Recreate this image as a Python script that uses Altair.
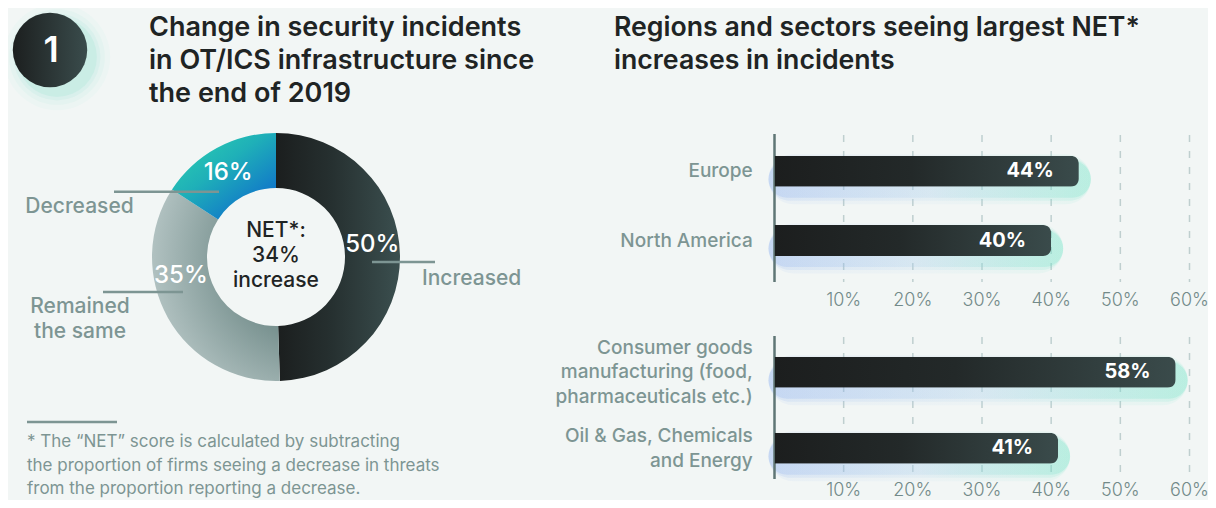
import math
import altair as alt
import pandas as pd

# ------------------------------------------------------------------ data
donut_cats = ["Increased", "Remained the same", "Decreased"]
donut_labels = ["Increased", "Remained\nthe same", "Decreased"]
donut_vals = [50, 35, 16]
net_value = donut_vals[0] - donut_vals[2]

regions = ["Europe", "North America"]
region_vals = [44, 40]

sectors = [
    "Consumer goods\nmanufacturing (food,\npharmaceuticals etc.)",
    "Oil & Gas, Chemicals\nand Energy",
]
sector_vals = [58, 41]

ticks = [10, 20, 30, 40, 50, 60]
tick_labels = ["10%", "20%", "30%", "40%", "50%", "60%"]

title_left = ["Change in security incidents", "in OT/ICS infrastructure since", "the end of 2019"]
title_right = ["Regions and sectors seeing largest NET*", "increases in incidents"]
center_text = ["NET*:", f"{net_value}%", "increase"]
footnote = [
    "* The \u201cNET\u201d score is calculated by subtracting",
    "the proportion of firms seeing a decrease in threats",
    "from the proportion reporting a decrease.",
]

# ------------------------------------------------------------------ layout / style
M = 8  # page margin


def px(v):
    return v - M


W, H = 1216 - 2 * M, 508 - 2 * M
FONT = "Inter"
BG = "#f2f6f5"
INK = "#1f2424"
MUTED = "#7d9593"
TICK = "#738a89"
GRID = "#bfcfcf"
AXIS = "#5f7675"


def lin(stops, x1=0, y1=0, x2=1, y2=0):
    return alt.LinearGradient(
        gradient="linear",
        stops=[alt.GradientStop(offset=o, color=c) for o, c in stops],
        x1=x1, y1=y1, x2=x2, y2=y2,
    )


def rad(stops, x, y, r):
    return alt.RadialGradient(
        gradient="radial",
        stops=[alt.GradientStop(offset=o, color=c) for o, c in stops],
        x1=x, y1=y, r1=0, x2=x, y2=y, r2=r,
    )


one = pd.DataFrame({"k": [0]})
layers = []

# ------------------------------------------------------------------ badge "1"
for r, op in [(60, 0.05), (54, 0.08), (49, 0.13), (45, 0.2)]:
    layers.append(
        alt.Chart(one).mark_circle(size=math.pi * r * r, color="#8fe3cf", opacity=op)
        .encode(x=alt.value(px(57)), y=alt.value(px(57)))
    )
layers.append(
    alt.Chart(one).mark_circle(
        size=math.pi * 42 * 42, opacity=1,
        color=lin([(0, "#1c1f1f"), (1, "#3a4c4c")]),
    ).encode(x=alt.value(px(50)), y=alt.value(px(50)))
)
layers.append(
    alt.Chart(one).mark_text(text="1", font=FONT, fontSize=36, fontWeight=600,
                             color="white", baseline="middle", align="center")
    .encode(x=alt.value(px(51)), y=alt.value(px(51)))
)

# ------------------------------------------------------------------ titles
layers.append(
    alt.Chart(one).mark_text(text=title_left, font=FONT, fontSize=27, fontWeight=600,
                             lineHeight=33, color=INK, align="left", baseline="alphabetic")
    .encode(x=alt.value(px(149)), y=alt.value(px(36)))
)
layers.append(
    alt.Chart(one).mark_text(text=title_right, font=FONT, fontSize=26.7, fontWeight=600,
                             lineHeight=33, color=INK, align="left", baseline="alphabetic")
    .encode(x=alt.value(px(614)), y=alt.value(px(36)))
)

# ------------------------------------------------------------------ donut
CX, CY = px(276), px(257)
donut_df = pd.DataFrame({"cat": donut_cats, "label": donut_labels,
                         "value": donut_vals, "order": list(range(len(donut_cats)))})
base = (
    alt.Chart(donut_df)
    .transform_joinaggregate(total="sum(value)")
    .transform_window(cum="sum(value)", sort=[alt.SortField("order")])
    .transform_calculate(
        s="(datum.cum - datum.value) / datum.total",
        e="datum.cum / datum.total",
        pct="datum.value + '%'",
    )
)
theta_scale = alt.Scale(domain=[0, 1], range=[0, 2 * math.pi])

seg_fill = {
    "Increased": lin([(0, "#1b1e1e"), (0.45, "#263030"), (1, "#3b4f4f")]),
    "Remained the same": rad([(0.4, "#7a9391"), (1, "#cdd9d9")], 1, 0.36, 1.05),
    "Decreased": lin([(0, "#2ed6ae"), (0.45, "#1fb0b8"), (1, "#0c64cf")], 0, 0, 0.9, 1),
}
label_shift = {"Increased": -6, "Remained the same": 18, "Decreased": -1}

for cat in donut_cats:
    seg = base.transform_filter(alt.datum.cat == cat)
    layers.append(
        seg.mark_arc(radius=124, radius2=69, color=seg_fill[cat]).encode(
            theta=alt.Theta("s:Q", scale=theta_scale, stack=False),
            theta2="e:Q",
            x=alt.value(CX), y=alt.value(CY),
        )
    )
for cat in donut_cats:
    seg = base.transform_filter(alt.datum.cat == cat).transform_calculate(
        m=f"(datum.s + datum.e) / 2 + {label_shift[cat] / 360}"
    )
    layers.append(
        seg.mark_text(radius=97, font=FONT, fontSize=24, fontWeight=500, color="white",
                      align="center", baseline="middle").encode(
            theta=alt.Theta("m:Q", scale=theta_scale, stack=False),
            text="pct:N",
            x=alt.value(CX), y=alt.value(CY),
        )
    )

# centre text
layers.append(
    alt.Chart(one).mark_text(text=center_text, font=FONT, fontSize=21, fontWeight=500,
                             lineHeight=25, color=INK, align="center", baseline="alphabetic")
    .encode(x=alt.value(CX), y=alt.value(px(237)))
)

# leader lines
for x1, x2, y in [(114, 219, 191.7), (372, 435, 262), (103, 183, 292)]:
    layers.append(
        alt.Chart(one).mark_rule(color=MUTED, strokeWidth=2.5)
        .encode(x=alt.value(px(x1)), x2=alt.value(px(x2)), y=alt.value(px(y)))
    )

# category labels of the donut (position of first line)
lab_pos = {"Decreased": (79.5, 207, "center"),
           "Increased": (422, 279, "left"),
           "Remained the same": (80, 307, "center")}
for cat in donut_cats:
    xx, yy, al = lab_pos[cat]
    layers.append(
        base.transform_filter(alt.datum.cat == cat)
        .mark_text(font=FONT, fontSize=21, fontWeight=500, color=MUTED, align=al,
                   baseline="middle", lineBreak="\n", lineHeight=25)
        .encode(text="label:N", x=alt.value(px(xx)), y=alt.value(px(yy)))
    )

# footnote
layers.append(
    alt.Chart(one).mark_rule(color=MUTED, strokeWidth=2.5)
    .encode(x=alt.value(px(27)), x2=alt.value(px(117)), y=alt.value(px(422)))
)
layers.append(
    alt.Chart(one).mark_text(text=footnote, font=FONT, fontSize=17, fontWeight=400,
                             lineHeight=23.5, color=MUTED, align="left", baseline="alphabetic")
    .encode(x=alt.value(px(27)), y=alt.value(px(447)))
)

# ------------------------------------------------------------------ bar panels
x_scale = alt.Scale(domain=[0, 60], range=[px(774.5), px(1189.5)])
tick_df = pd.DataFrame({"t": ticks, "lab": tick_labels})
bar_fill = lin([(0, "#1c1e1e"), (0.45, "#232929"), (1, "#3a4b4b")])
glow_fill = lin([(0, "#7ea6ee"), (0.5, "#acd0ec"), (1, "#5fe2c0")])
LH = 24.5

panels = [
    (regions, region_vals, (171.2, 240.5), (135, 282), 300.7),
    (sectors, sector_vals, (372.3, 448.3), (337, 479), 490.5),
]
for cats, vals, (yc1, yc2), (gtop, gbot), tick_y in panels:
    df = pd.DataFrame({"cat": cats, "value": vals})
    y_scale = alt.Scale(type="point", domain=cats, range=[px(yc1), px(yc2)], padding=0)
    X = alt.X("value:Q", scale=x_scale, axis=None)
    Y = alt.Y("cat:N", scale=y_scale, axis=None)

    # dashed grid
    layers.append(
        alt.Chart(tick_df).mark_rule(color=GRID, strokeWidth=1.5, strokeDash=[7, 9])
        .encode(x=alt.X("t:Q", scale=x_scale, axis=None),
                y=alt.value(px(gtop)), y2=alt.value(px(gbot)))
    )
    # glow
    for sz, op in [(50, 0.08), (43, 0.14), (37, 0.22)]:
        layers.append(
            alt.Chart(df).mark_bar(size=sz, cornerRadius=sz / 2, color=glow_fill, opacity=op,
                                   yOffset=8, xOffset=12, x2Offset=-6)
            .encode(x=X, x2=alt.datum(0), y=Y)
        )
    # zero axis line
    layers.append(
        alt.Chart(pd.DataFrame({"t": [0]})).mark_rule(color=AXIS, strokeWidth=2.5)
        .encode(x=alt.X("t:Q", scale=x_scale, axis=None),
                y=alt.value(px(gtop - 1)), y2=alt.value(px(gbot)))
    )
    # bars
    layers.append(
        alt.Chart(df).mark_bar(size=31, cornerRadiusEnd=8, color=bar_fill)
        .encode(x=X, y=Y)
    )
    # value labels
    layers.append(
        alt.Chart(df).transform_calculate(lab="datum.value + '%'")
        .mark_text(font=FONT, fontSize=20, fontWeight=700, color="white",
                   align="right", baseline="middle", dx=-25)
        .encode(x=X, y=Y, text="lab:N")
    )
    # category labels (multi-line blocks centred on the bar)
    for cat in cats:
        n_lines = cat.count("\n") + 1
        layers.append(
            alt.Chart(df).transform_filter(alt.datum.cat == cat)
            .mark_text(font=FONT, fontSize=19, fontWeight=500, color=MUTED,
                       align="right", baseline="middle", lineBreak="\n",
                       lineHeight=LH, dy=-(n_lines - 1) * LH / 2)
            .encode(x=alt.value(px(752.7)), y=Y, text="cat:N")
        )
    # tick labels
    layers.append(
        alt.Chart(tick_df).mark_text(font=FONT, fontSize=18, fontWeight=300, color=TICK,
                                     align="center", baseline="middle")
        .encode(x=alt.X("t:Q", scale=x_scale, axis=None), y=alt.value(px(tick_y)),
                text="lab:N")
    )

chart = (
    alt.layer(*layers)
    .resolve_scale(x="independent", y="independent")
    .properties(width=W, height=H, autosize=alt.AutoSizeParams(type="none"), padding=0)
    .configure(background=BG)
    .configure_view(stroke="transparent")
)

chart.save("out.html", embed_options={"renderer": "svg", "actions": False})
